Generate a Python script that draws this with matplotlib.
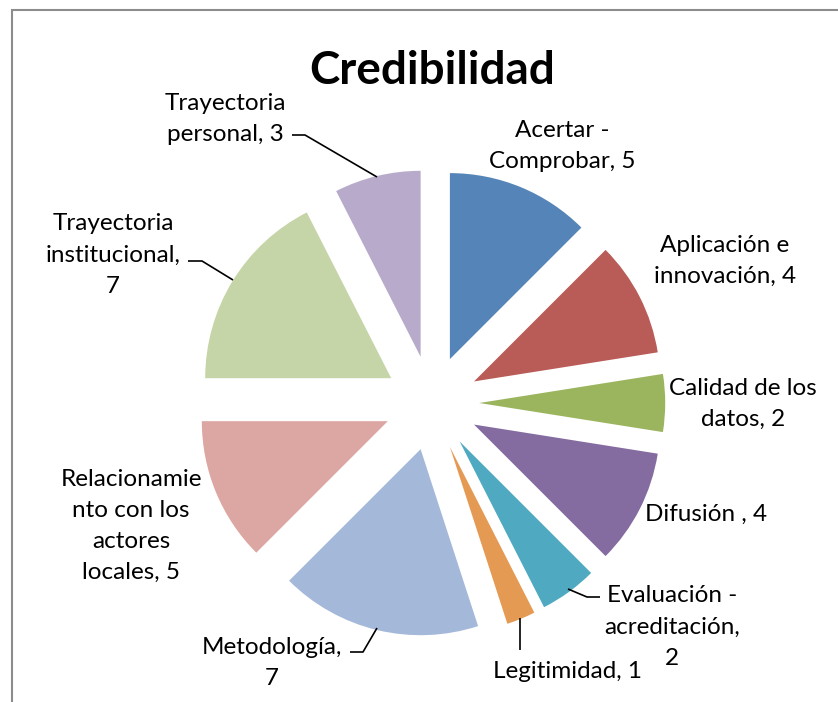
import numpy as np
import matplotlib
matplotlib.use('Agg')
import matplotlib.pyplot as plt
from matplotlib.patches import Rectangle

# data
categories = ['Acertar -\nComprobar', 'Aplicación e\ninnovación', 'Calidad de los\ndatos',
              'Difusión ', 'Evaluación -\nacreditación,\n', 'Legitimidad',
              'Metodología,\n', 'Relacionamie\nnto con los\nactores\nlocales',
              'Trayectoria\ninstitucional,\n', 'Trayectoria\npersonal']
values = [5, 4, 2, 4, 2, 1, 7, 5, 7, 3]
colors = ['#5585B8', '#B95B57', '#9BB45E', '#846BA0', '#4EA9C1', '#E59A53',
          '#A4B8DA', '#DCA6A2', '#C5D5A8', '#B8AACA']

W, H = 838, 702
plt.rcParams['font.family'] = ['Lato', 'DejaVu Sans']

fig = plt.figure(figsize=(W / 100, H / 100), dpi=100)
ax = fig.add_axes([0, 0, 1, 1])

# pie in pixel coords (y up)
cx, cy, r = 431.7, H - 403, 186
ax.pie(values, colors=colors, startangle=90, counterclock=False,
       radius=r, center=(cx, cy), explode=[47.5] * len(values),
       wedgeprops=dict(linewidth=0))

ax.set_xlim(0, W)
ax.set_ylim(0, H)
ax.set_aspect('auto')
ax.axis('off')

# label text positions (pixel coords from top-left)
label_pos = [(562, 146), (725, 261), (743, 404), (706, 514), (672, 627),
             (567, 671), (272, 663), (131, 526), (113, 255), (225, 119)]

for cat, v, (x, y) in zip(categories, values, label_pos):
    if cat.endswith('\n'):
        txt = cat + str(v)
    else:
        txt = cat + ', ' + str(v)
    ax.text(x, H - y, txt, ha='center', va='center', fontsize=17.5,
            linespacing=1.6, color='black')

# leader lines
leaders = [
    [(292, 135), (305, 135), (377, 177)],
    [(188, 261), (202, 261), (233, 280)],
    [(350, 652), (363, 652), (377, 628)],
    [(600, 597), (587, 597), (568, 589)],
    [(520, 618), (520, 650)],
]
for pts in leaders:
    xs = [p[0] for p in pts]
    ys = [H - p[1] for p in pts]
    ax.plot(xs, ys, color='black', lw=1.2, solid_capstyle='butt')

ax.text(432, H - 71, 'Credibilidad', ha='center', va='center',
        fontsize=33, fontweight='bold')

# chart frame (cropped on right and bottom)
fig.patches.append(Rectangle((12 / W, -0.1), 1.2, (H - 10) / H + 0.1,
                             transform=fig.transFigure, fill=False,
                             edgecolor='#8c8c8c', lw=1.5))

fig.savefig('out.png', dpi=100)
